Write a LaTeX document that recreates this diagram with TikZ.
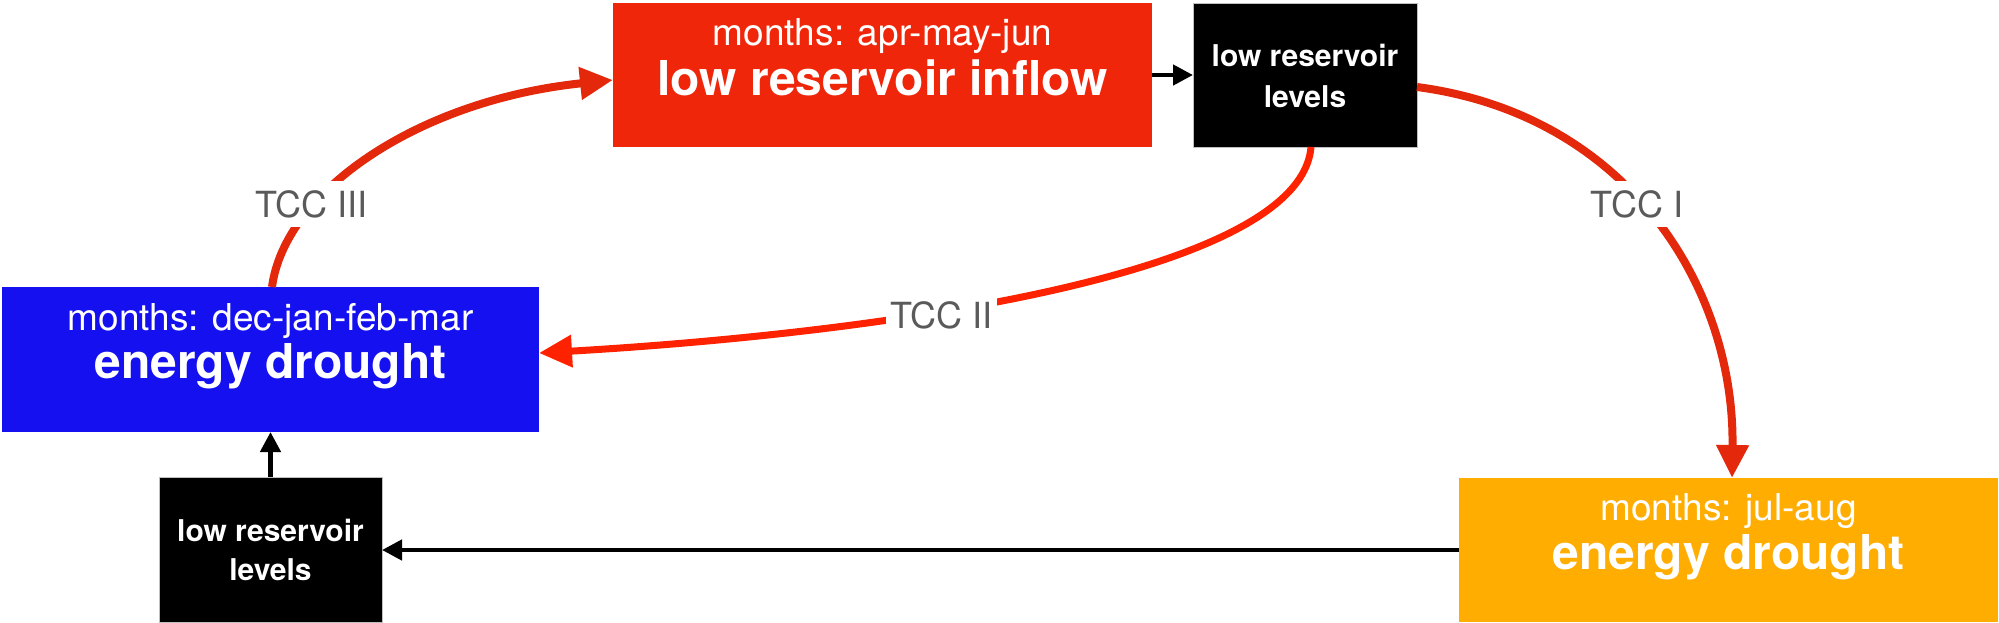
\documentclass[tikz,border=0pt]{standalone}
\usepackage{fontspec}
\setmainfont{TeX Gyre Heros}
\usetikzlibrary{arrows.meta,calc}
\definecolor{cRedBox}{RGB}{240,38,10}
\definecolor{cRedLine}{RGB}{228,40,12}
\definecolor{cRedLineB}{RGB}{255,34,0}
\definecolor{cBlue}{RGB}{20,16,240}
\definecolor{cOrange}{RGB}{255,173,0}
\definecolor{cGrayTxt}{RGB}{90,90,90}
\begin{document}
\begin{tikzpicture}[x=0.5pt,y=-0.5pt,
  box/.style={inner sep=0pt, outer sep=0pt},
  blkbox/.style={box, fill=black, draw=black!25, line width=0.5pt},
  mtxt/.style={anchor=base, text=white, inner sep=0pt, font=\fontsize{18.5pt}{22pt}\selectfont},
  btxt/.style={anchor=base, text=white, inner sep=0pt, font=\fontsize{24pt}{28pt}\selectfont\bfseries},
  stxt/.style={anchor=base, text=white, inner sep=0pt, font=\fontsize{15pt}{18pt}\selectfont\bfseries},
  lbl/.style={anchor=base, fill=white, text=cGrayTxt, inner xsep=2pt, inner ysep=4.5pt, font=\fontsize{18pt}{22pt}\selectfont},
  tccline/.style={draw=cRedLine, line width=4pt, -{Triangle[length=16.5pt,width=15.5pt]}},
  tcclineB/.style={draw=cRedLineB, line width=3.5pt, -{Triangle[length=16.5pt,width=15.5pt]}},
  blkarrow/.style={draw=black, line width=2.25pt, -{Triangle[length=10pt,width=10pt]}}
]
\useasboundingbox (0,0) rectangle (1999,622);

% boxes
\node[box, fill=cRedBox, minimum width=269.5pt, minimum height=72pt] (inflow) at (882.5,75) {};
\node[blkbox, minimum width=112pt, minimum height=72pt] (lvlA) at (1305,75) {};
\node[box, fill=cBlue, minimum width=268.5pt, minimum height=72.5pt] (blue) at (270.5,359.5) {};
\node[blkbox, minimum width=111.5pt, minimum height=72.5pt] (lvlB) at (270.5,549.5) {};
\node[box, fill=cOrange, minimum width=269.5pt, minimum height=72pt] (orange) at (1728.5,550) {};

% texts
\node[mtxt] (inflowM) at (882.5,45) {months: apr-may-jun};
\node[btxt] (inflowT) at (882.5,95) {low reservoir inflow};
\node[stxt] (lvlA1) at (1305,66.7) {low reservoir};
\node[stxt] (lvlA2) at (1305,107.3) {levels};
\node[mtxt] (blueM) at (270.5,330) {months: dec-jan-feb-mar};
\node[btxt] (blueT) at (270.5,378.3) {energy drought};
\node[stxt] (lvlB1) at (270.5,541.7) {low reservoir};
\node[stxt] (lvlB2) at (270.5,580.7) {levels};
\node[mtxt] (orangeM) at (1728.5,520) {months: jul-aug};
\node[btxt] (orangeT) at (1728.5,569.3) {energy drought};

% connectors
\draw[blkarrow] (inflow.east) -- (lvlA.west);
\draw[blkarrow] (orange.west) -- (orange.west -| lvlB.east);
\draw[blkarrow] (lvlB.north) -- (blue.south);
\draw[tccline] ($(lvlA.east)+(0,12)$) .. controls (1630,115) and (1735,290) .. ($(orange.north)+(3.5,0)$);
\draw[tcclineB] ($(lvlA.south)+(6,0)$) .. controls (1300,280) and (850,335) .. ($(blue.east)+(0,-6.5)$);
\draw[tccline] ($(blue.north)+(1.5,0)$) .. controls (285,190) and (420,100) .. ($(inflow.west)+(0,5)$);

% labels
\node[lbl] (tcc1) at (1637,217) {TCC I};
\node[lbl] (tcc2) at (941.5,328) {TCC II};
\node[lbl] (tcc3) at (311.5,217) {TCC III};
\end{tikzpicture}
\end{document}
